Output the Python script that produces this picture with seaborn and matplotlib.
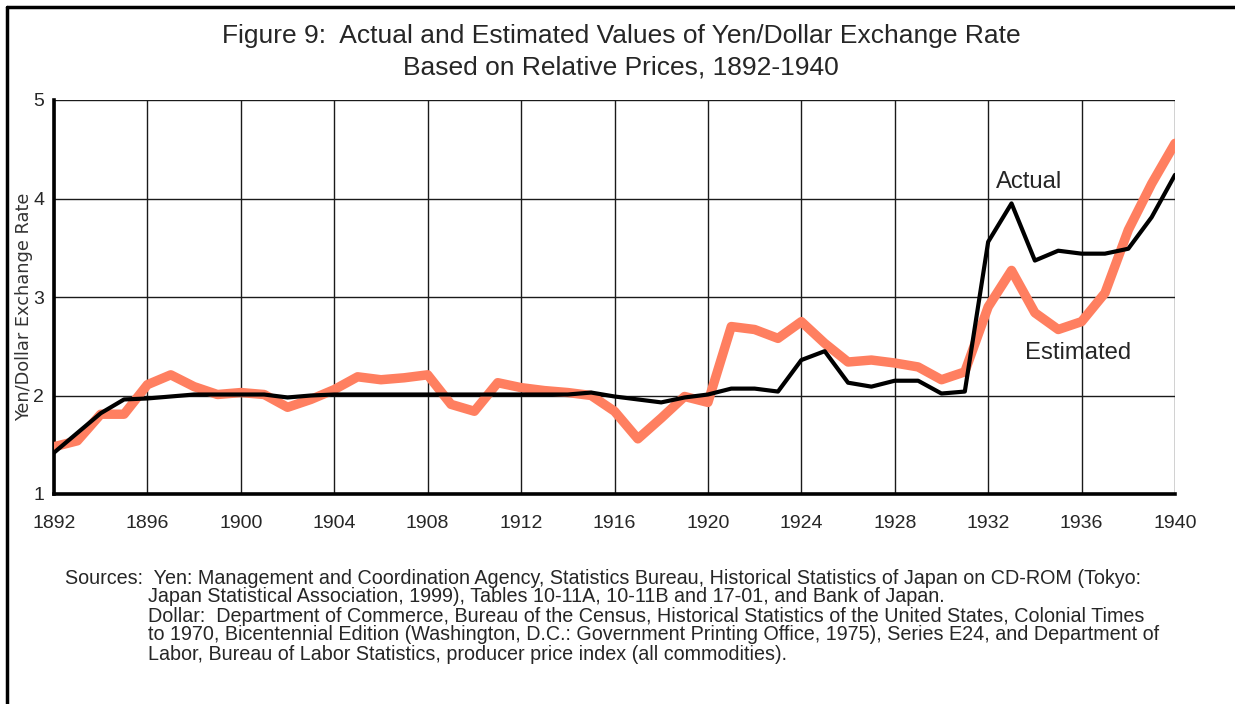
import matplotlib
matplotlib.use("Agg")
import matplotlib.pyplot as plt
import seaborn as sns
import pandas as pd
from matplotlib.lines import Line2D

years = list(range(1892, 1941))
actual = [1.42, 1.62, 1.82, 1.96, 1.97, 1.99, 2.01, 2.01, 2.01, 2.01, 1.98, 2.00,
          2.01, 2.01, 2.01, 2.01, 2.01, 2.01, 2.01, 2.01, 2.01, 2.01, 2.01, 2.03,
          1.99, 1.96, 1.93, 1.98, 2.01, 2.07, 2.07, 2.04, 2.36, 2.45, 2.13, 2.09,
          2.15, 2.15, 2.02, 2.04, 3.56, 3.95, 3.37, 3.47, 3.44, 3.44, 3.49, 3.81, 4.24]
estimated = [1.48, 1.54, 1.81, 1.81, 2.11, 2.21, 2.09, 2.01, 2.03, 2.01, 1.88, 1.96,
             2.06, 2.19, 2.16, 2.18, 2.21, 1.91, 1.84, 2.13, 2.08, 2.05, 2.03, 2.00,
             1.84, 1.56, 1.77, 1.99, 1.93, 2.70, 2.67, 2.58, 2.75, 2.53, 2.34, 2.36,
             2.33, 2.29, 2.16, 2.24, 2.90, 3.27, 2.84, 2.67, 2.75, 3.04, 3.68, 4.15, 4.56]
x_ticks = list(range(1892, 1941, 4))
y_ticks = [1, 2, 3, 4, 5]

title_lines = ["Figure 9:  Actual and Estimated Values of Yen/Dollar Exchange Rate",
               "Based on Relative Prices, 1892-1940"]
ylabel = "Yen/Dollar Exchange Rate"
sources = [
    "Sources:  Yen: Management and Coordination Agency, Statistics Bureau, Historical Statistics of Japan on CD-ROM (Tokyo:",
    "Japan Statistical Association, 1999), Tables 10-11A, 10-11B and 17-01, and Bank of Japan.",
    "Dollar:  Department of Commerce, Bureau of the Census, Historical Statistics of the United States, Colonial Times",
    "to 1970, Bicentennial Edition (Washington, D.C.: Government Printing Office, 1975), Series E24, and Department of",
    "Labor, Bureau of Labor Statistics, producer price index (all commodities).",
]

sns.set_style("white")
plt.rcParams['font.family'] = ['Liberation Sans', 'DejaVu Sans']

df = pd.DataFrame({"Year": years + years,
                   "Rate": actual + estimated,
                   "Series": ["Actual"] * len(years) + ["Estimated"] * len(years)})

fig = plt.figure(figsize=(12.35, 7.04), dpi=100)
ax = fig.add_axes([54/1235, 1 - 494/704, (1175 - 54)/1235, (494 - 100)/704])

sns.lineplot(data=df[df.Series == "Actual"], x="Year", y="Rate", color="black",
             linewidth=3.0, ax=ax, legend=False, zorder=4)
sns.lineplot(data=df[df.Series == "Estimated"], x="Year", y="Rate", color="#FF7F60",
             linewidth=6.8, ax=ax, legend=False, zorder=3)

ax.set_xlim(1892, 1940)
ax.set_ylim(1, 5)
ax.set_xticks(x_ticks)
ax.set_yticks(y_ticks)
ax.set_xticklabels([str(t) for t in x_ticks], fontsize=14)
ax.set_yticklabels([str(t) for t in y_ticks], fontsize=14)
ax.grid(True, color="#1a1a1a", linewidth=1.0)
ax.set_axisbelow(True)
ax.tick_params(axis="x", length=5, width=1, color="#444444", pad=10)
ax.tick_params(axis="y", length=4, width=1, color="#444444", pad=3)
ax.set_xlabel("")
ax.set_ylabel("")
for s in ["top", "right"]:
    ax.spines[s].set_visible(False)
for s in ["left", "bottom"]:
    ax.spines[s].set_linewidth(2.6)
    ax.spines[s].set_color("black")

ax.text(1933.75, 4.17, "Actual", fontsize=17.2, ha="center", va="center")
ax.text(1935.87, 2.43, "Estimated", fontsize=17.2, ha="center", va="center")

fig.text(621/1235, 1 - 36/704, title_lines[0], fontsize=19, ha="center", va="center")
fig.text(621/1235, 1 - 68/704, title_lines[1], fontsize=19, ha="center", va="center")
fig.text(24/1235, 1 - 307/704, ylabel, rotation=90, fontsize=12.8, ha="center", va="center",
         color="#333333", family=["DejaVu Sans"])

y0 = 578
for i, line in enumerate(sources):
    xpos = 65 if i == 0 else 148
    fig.text(xpos/1235, 1 - (y0 + i*19)/704, line, fontsize=14.2, ha="left", va="center")

# outer frame (top and left)
fig.add_artist(Line2D([7/1235, 1], [1 - 7/704, 1 - 7/704], color="black", linewidth=2.5,
                      transform=fig.transFigure))
fig.add_artist(Line2D([7/1235, 7/1235], [1 - 7/704, 0], color="black", linewidth=2.5,
                      transform=fig.transFigure))

fig.savefig("out.png", dpi=100)
